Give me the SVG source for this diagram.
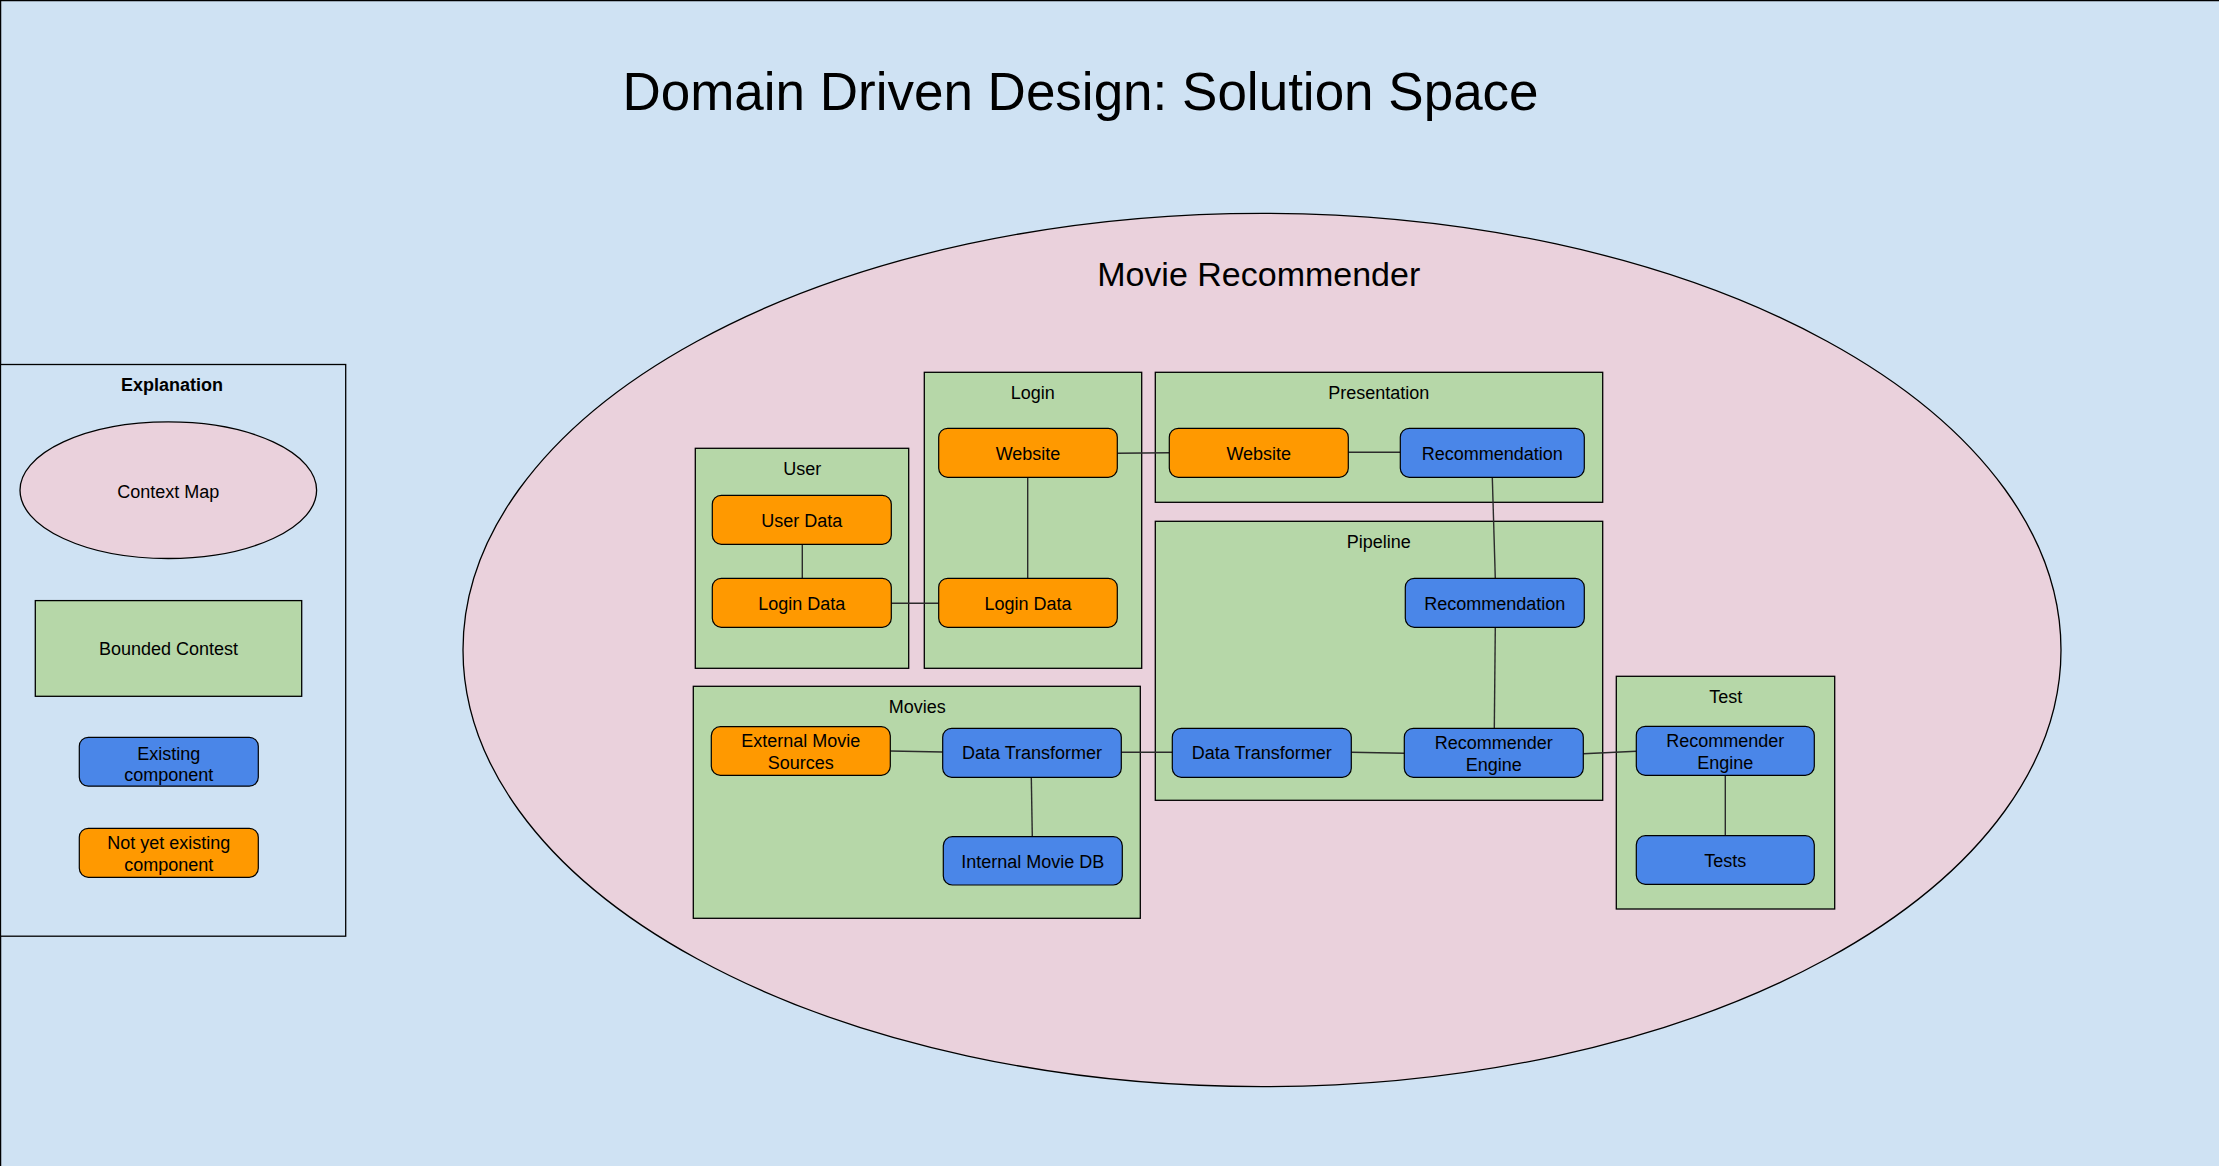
<svg xmlns="http://www.w3.org/2000/svg" width="2219" height="1166" viewBox="0 0 2219 1166">
<style>
text{font-family:"Liberation Sans",Arial,sans-serif;fill:#000;text-anchor:middle}
.t{font-size:18px}
.b{font-size:18px;font-weight:bold}
.ctx{fill:#b6d7a8;stroke:#000;stroke-width:1.3}
.ex{fill:#4a86e8;stroke:#000;stroke-width:1.2}
.ny{fill:#ff9900;stroke:#000;stroke-width:1.2}
.map{fill:#ead1dc;stroke:#000;stroke-width:1.3}
#connectors line{stroke:#2b2b2b;stroke-width:1.4}
</style>
<rect x="0.5" y="0.5" width="2240" height="1190" fill="#cfe2f3" stroke="#000" stroke-width="1.5"/>
<text x="1080.5" y="110" style="font-size:53px">Domain Driven Design: Solution Space</text>

<g id="legend">
<rect x="0.5" y="364.5" width="345.2" height="571.7" fill="#cfe2f3" stroke="#000" stroke-width="1.3"/>
<text class="b" x="172" y="390.9">Explanation</text>
<ellipse class="map" cx="168.3" cy="490.2" rx="148.3" ry="68.3"/>
<text class="t" x="168.3" y="497.7">Context Map</text>
<rect class="ctx" x="35.3" y="600.6" width="266.4" height="95.7"/>
<text class="t" x="168.5" y="655.4">Bounded Contest</text>
<rect class="ex" x="79.3" y="737.3" width="179" height="48.9" rx="9"/>
<text class="t" x="168.8" y="759.5">Existing</text>
<text class="t" x="168.8" y="780.5">component</text>
<rect class="ny" x="79.3" y="828.3" width="179" height="49" rx="9"/>
<text class="t" x="168.8" y="849.4">Not yet existing</text>
<text class="t" x="168.8" y="871.2">component</text>
</g>

<g id="movie-recommender">
<ellipse class="map" cx="1262" cy="650" rx="799" ry="436.7"/>
<text x="1258.7" y="286" style="font-size:34px">Movie Recommender</text>
</g>

<g id="ctx-user">
<rect class="ctx" x="695.3" y="448.3" width="213.4" height="220"/>
<text class="t" x="802.3" y="475">User</text>
</g>
<g id="ctx-login">
<rect class="ctx" x="924.3" y="372.3" width="217.4" height="296"/>
<text class="t" x="1032.7" y="399.3">Login</text>
</g>
<g id="ctx-presentation">
<rect class="ctx" x="1155.3" y="372.3" width="447.4" height="130"/>
<text class="t" x="1378.7" y="399.3">Presentation</text>
</g>
<g id="ctx-pipeline">
<rect class="ctx" x="1155.3" y="521.3" width="447.4" height="279"/>
<text class="t" x="1378.7" y="548.3">Pipeline</text>
</g>
<g id="ctx-movies">
<rect class="ctx" x="693.3" y="686.3" width="447" height="232"/>
<text class="t" x="917.3" y="712.7">Movies</text>
</g>
<g id="ctx-test">
<rect class="ctx" x="1616.3" y="676.3" width="218.4" height="232.7"/>
<text class="t" x="1725.7" y="703.3">Test</text>
</g>

<g id="connectors">
<line x1="802.3" y1="544.3" x2="802.3" y2="578.3"/>
<line x1="891.3" y1="603.3" x2="938.7" y2="603.3"/>
<line x1="1027.7" y1="477.3" x2="1027.7" y2="578.3"/>
<line x1="1117.3" y1="453.3" x2="1169.3" y2="452.7"/>
<line x1="1348.3" y1="452.3" x2="1400.3" y2="452.3"/>
<line x1="1492.3" y1="477.3" x2="1495.3" y2="578.3"/>
<line x1="1495.3" y1="627.3" x2="1494.3" y2="728.3"/>
<line x1="1351.3" y1="752.3" x2="1404.3" y2="753.3"/>
<line x1="1583.3" y1="753.7" x2="1636.3" y2="751.3"/>
<line x1="890.3" y1="751" x2="942.7" y2="752"/>
<line x1="1031.3" y1="777.3" x2="1032.3" y2="836.7"/>
<line x1="1121.3" y1="752.3" x2="1172.3" y2="752.3"/>
<line x1="1725.3" y1="775.3" x2="1725.3" y2="835.7"/>
</g>

<g id="user-data">
<rect class="ny" x="712.3" y="495.3" width="179" height="49" rx="9"/>
<text class="t" x="801.8" y="527">User Data</text>
</g>
<g id="user-login-data">
<rect class="ny" x="712.3" y="578.3" width="179" height="49" rx="9"/>
<text class="t" x="801.8" y="610">Login Data</text>
</g>
<g id="login-website">
<rect class="ny" x="938.7" y="428.3" width="178.6" height="49" rx="9"/>
<text class="t" x="1028" y="460">Website</text>
</g>
<g id="login-login-data">
<rect class="ny" x="938.7" y="578.3" width="178.6" height="49" rx="9"/>
<text class="t" x="1028" y="610">Login Data</text>
</g>
<g id="pres-website">
<rect class="ny" x="1169.3" y="428.3" width="179" height="49" rx="9"/>
<text class="t" x="1258.8" y="460">Website</text>
</g>
<g id="pres-recommendation">
<rect class="ex" x="1400.3" y="428.3" width="184" height="49" rx="9"/>
<text class="t" x="1492.3" y="460">Recommendation</text>
</g>
<g id="pipe-recommendation">
<rect class="ex" x="1405.3" y="578.3" width="179" height="49" rx="9"/>
<text class="t" x="1494.8" y="610">Recommendation</text>
</g>
<g id="pipe-data-transformer">
<rect class="ex" x="1172.3" y="728.3" width="179" height="49" rx="9"/>
<text class="t" x="1261.8" y="759.3">Data Transformer</text>
</g>
<g id="pipe-recommender-engine">
<rect class="ex" x="1404.3" y="728.3" width="179" height="49" rx="9"/>
<text class="t" x="1493.8" y="749.3">Recommender</text>
<text class="t" x="1493.8" y="771">Engine</text>
</g>
<g id="ext-movie-sources">
<rect class="ny" x="711.3" y="726.7" width="179" height="48.6" rx="9"/>
<text class="t" x="800.8" y="746.7">External Movie</text>
<text class="t" x="800.8" y="769">Sources</text>
</g>
<g id="movies-data-transformer">
<rect class="ex" x="942.7" y="728.3" width="178.6" height="49" rx="9"/>
<text class="t" x="1032" y="759.3">Data Transformer</text>
</g>
<g id="internal-movie-db">
<rect class="ex" x="943.3" y="836.7" width="179" height="48.3" rx="9"/>
<text class="t" x="1032.8" y="868.3">Internal Movie DB</text>
</g>
<g id="test-recommender-engine">
<rect class="ex" x="1636.3" y="726.3" width="178" height="49" rx="9"/>
<text class="t" x="1725.3" y="747.3">Recommender</text>
<text class="t" x="1725.3" y="769">Engine</text>
</g>
<g id="tests">
<rect class="ex" x="1636.3" y="835.7" width="178" height="48.6" rx="9"/>
<text class="t" x="1725.3" y="866.7">Tests</text>
</g>
</svg>
